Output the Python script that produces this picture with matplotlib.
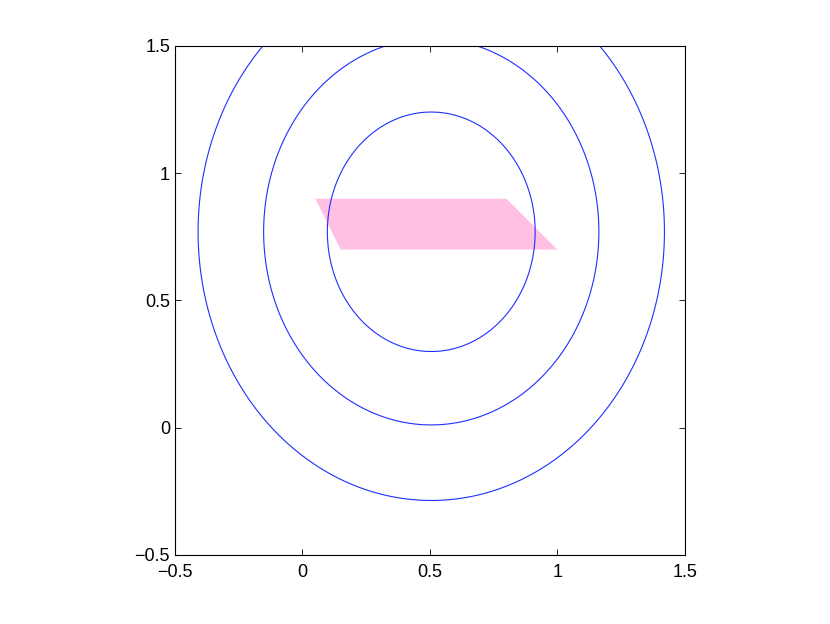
import numpy as np
import matplotlib
matplotlib.use("Agg")
import matplotlib.pyplot as plt
from matplotlib.patches import Polygon

plt.rcParams["font.family"] = ["Liberation Sans", "DejaVu Sans"]

# contour rings (quadratic bowl)
center = (0.505, 0.77)
y_weight = 0.75
levels = [0.166, 0.432, 0.836]

# pink parallelogram corners
poly_x = [0.05, 0.8, 1.0, 0.15]
poly_y = [0.9, 0.9, 0.7, 0.7]

ticks = [-0.5, 0, 0.5, 1, 1.5]
tick_labels = ["\u22120.5", "0", "0.5", "1", "1.5"]

fig = plt.figure(figsize=(8.3, 6.24), dpi=100)
ax = fig.add_axes([0.2108, 0.1106, 0.6145, 0.8157])

gx, gy = np.meshgrid(np.linspace(-0.5, 1.5, 401), np.linspace(-0.5, 1.5, 401))
f = (gx - center[0]) ** 2 + y_weight * (gy - center[1]) ** 2
ax.contour(gx, gy, f, levels=levels, colors="#1f2fff", linewidths=0.8)

ax.add_patch(Polygon(list(zip(poly_x, poly_y)), closed=True,
                     facecolor="#ffc0e3", edgecolor="none"))

ax.set_xlim(-0.5, 1.5)
ax.set_ylim(-0.5, 1.5)
ax.set_xticks(ticks)
ax.set_yticks(ticks)
ax.set_xticklabels(tick_labels)
ax.set_yticklabels(tick_labels)
ax.tick_params(direction="in", top=True, right=True, length=4, width=0.6,
               labelsize=13)
ax.tick_params(axis="x", pad=6.5)
ax.tick_params(axis="y", pad=3.5)
for s in ax.spines.values():
    s.set_linewidth(0.8)

fig.savefig("out.png", dpi=100)
